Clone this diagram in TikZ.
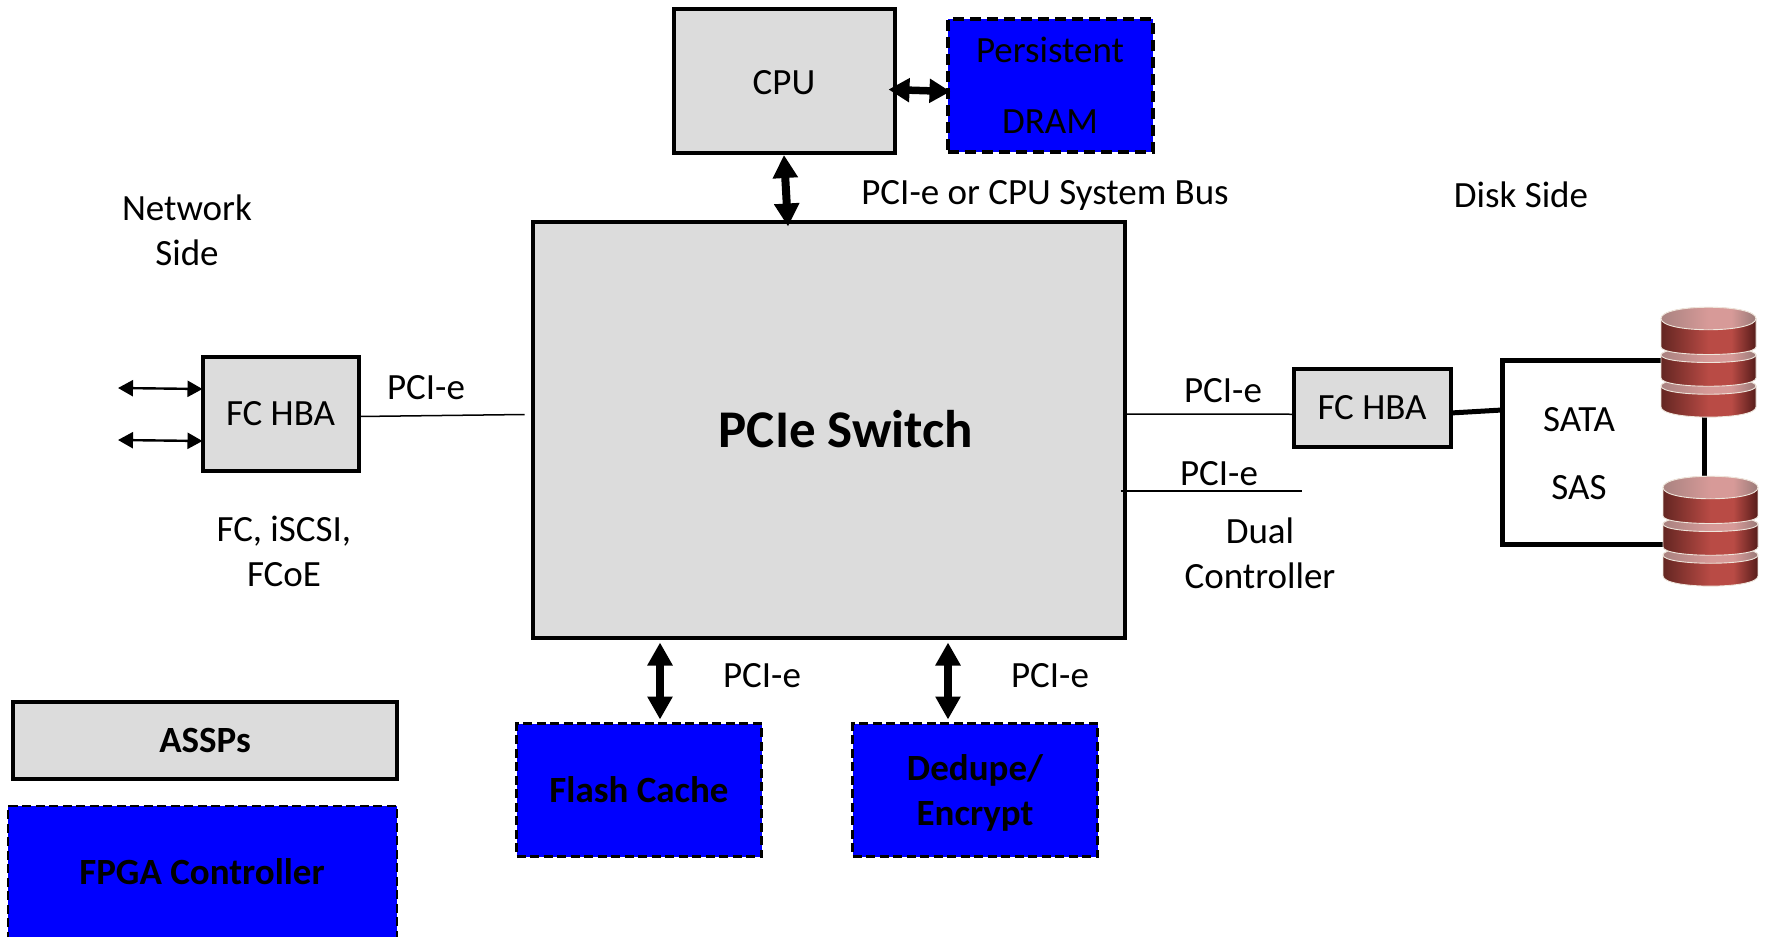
\documentclass[tikz,border=0pt]{standalone}
\usepackage{fontspec}
\setmainfont{Carlito}
\usetikzlibrary{arrows.meta}
\definecolor{boxgray}{HTML}{DCDCDC}
\definecolor{fpgablue}{HTML}{0000FF}
\definecolor{diskedge}{HTML}{EFE6DC}
\definecolor{bodyL}{HTML}{642622}
\definecolor{bodyM}{HTML}{B94B45}
\definecolor{bodyR}{HTML}{561C1A}
\definecolor{lightL}{HTML}{A98280}
\definecolor{lightM}{HTML}{D79A98}
\definecolor{lightR}{HTML}{9A7A78}
\pgfdeclarehorizontalshading{diskbody}{100bp}{color(0bp)=(bodyL); color(25bp)=(bodyL); color(50bp)=(bodyM); color(62bp)=(bodyM); color(75bp)=(bodyR); color(100bp)=(bodyR)}
\pgfdeclarehorizontalshading{disklight}{100bp}{color(0bp)=(lightL); color(25bp)=(lightL); color(50bp)=(lightM); color(62bp)=(lightM); color(75bp)=(lightR); color(100bp)=(lightR)}
\tikzset{
  txt/.style={font=\fontsize{37}{44}\selectfont, inner sep=0pt, align=center, text=black},
  boldtxt/.style={font=\fontsize{37}{45}\selectfont\bfseries, inner sep=0pt, align=center, text=black},
  asicbox/.style={draw=black, fill=boxgray, line width=4pt, outer sep=0pt, inner sep=0pt},
  fpgabox/.style={draw=black, fill=fpgablue, line width=2.8pt, dash pattern=on 9pt off 4.5pt, outer sep=0pt, inner sep=0pt},
  wirethin/.style={draw=black, line width=1.5pt},
  wirethick/.style={draw=black, line width=5pt},
  bigarrow/.style={draw=black, line width=8pt, {Triangle[width=24pt,length=23pt]}-{Triangle[width=24pt,length=23pt]}},
  midarrow/.style={draw=black, line width=7.5pt, {Triangle[width=23pt,length=21pt]}-{Triangle[width=23pt,length=21pt]}},
  smallarrow/.style={draw=black, line width=2.4pt, {Triangle[width=16pt,length=15pt]}-{Triangle[width=16pt,length=15pt]}},
  diskbodystyle/.style={shading=diskbody, draw=diskedge, line width=0.9pt},
  disklightstyle/.style={shading=disklight, draw=diskedge, line width=0.9pt}
}
% one stacked disk: #1 = left x, #2 = top y of the drawing
\newcommand{\diskstack}[2]{%
  \begin{scope}[shift={(#1,#2)}]
    % lowest section
    \path[diskbodystyle] (0,79) -- (0,100) .. controls (0,113.5) and (95,113.5) .. (95,100) -- (95,79) .. controls (95,69) and (0,69) .. (0,79) -- cycle;
    \path[disklightstyle] (0,79) .. controls (0,90) and (95,90) .. (95,79) .. controls (95,68) and (0,68) .. (0,79) -- cycle;
    % middle section
    \path[diskbodystyle] (0,48) -- (0,71) .. controls (0,82) and (95,82) .. (95,71) -- (95,48) .. controls (95,38) and (0,38) .. (0,48) -- cycle;
    \path[disklightstyle] (0,48) .. controls (0,58) and (95,58) .. (95,48) .. controls (95,38) and (0,38) .. (0,48) -- cycle;
    % top section
    \path[diskbodystyle] (0,11.5) -- (0,40) .. controls (0,50) and (95,50) .. (95,40) -- (95,11.5) .. controls (95,-3.5) and (0,-3.5) .. (0,11.5) -- cycle;
    \path[disklightstyle] (0,11.5) .. controls (0,26.5) and (95,26.5) .. (95,11.5) .. controls (95,-3.5) and (0,-3.5) .. (0,11.5) -- cycle;
  \end{scope}%
}
\begin{document}
\begin{tikzpicture}[x=1pt,y=-1pt]
\useasboundingbox (0,0) rectangle (1767,937);

% main boxes
\node[asicbox, minimum width=221pt, minimum height=144pt, txt] (cpu) at (784,81) {\rule{0pt}{27pt}CPU};
\node[fpgabox, minimum width=205pt, minimum height=133pt, line width=4pt, dash pattern=on 11pt off 6pt, font=\fontsize{37}{71}\selectfont, align=center] (dram) at (1050,85.5) {Persistent\\DRAM};
\node[asicbox, minimum width=592pt, minimum height=416pt] (sw) at (828.5,429.5) {};
\node[asicbox, minimum width=156pt, minimum height=114pt, txt] (hbal) at (280.5,414) {FC HBA};
\node[asicbox, minimum width=157pt, minimum height=78pt, txt] (hbar) at (1372,408) {FC HBA};
\node[draw=black, fill=white, line width=5pt, minimum width=202pt, minimum height=184pt, outer sep=0pt, inner sep=0pt] (sata) at (1603,452) {};
\node[asicbox, minimum width=384pt, minimum height=77pt, boldtxt] (assps) at (205,740.5) {ASSPs};
\node[fpgabox, minimum width=389pt, minimum height=136pt] (fpga) at (202.5,874) {};
\node[fpgabox, minimum width=245pt, minimum height=133pt, boldtxt] (flash) at (639,790) {Flash Cache};
\node[fpgabox, minimum width=245pt, minimum height=133pt, boldtxt] (dedupe) at (975,790) {\rule{0pt}{32pt}Dedupe/\\Encrypt};

% disks
\diskstack{1661}{307}
\diskstack{1663}{476}

% labels
\node[font=\fontsize{53}{60}\selectfont\bfseries, inner sep=0pt] (swlabel) at (846,429) {PCIe Switch};
\node[boldtxt] (fpgalabel) at (202,872) {FPGA Controller};
\node[txt, font=\fontsize{37}{45}\selectfont] (network) at (187,230) {Network\\Side};
\node[txt] (disk) at (1521,195) {Disk Side};
\node[txt] (bus) at (1045,195) {PCI-e or CPU System Bus};
\node[txt] (pcil) at (426,388) {PCI-e};
\node[txt] (pcir) at (1223,391) {PCI-e};
\node[txt] (pcid) at (1219,474) {PCI-e};
\node[txt] (pcif) at (762,676) {PCI-e};
\node[txt] (pcie) at (1050,676) {PCI-e};
\node[txt, font=\fontsize{37}{45}\selectfont] (fclabel) at (284,551) {FC, iSCSI,\\FCoE};
\node[txt, font=\fontsize{37}{45}\selectfont] (duallabel) at (1260,553.5) {Dual\\Controller};
\node[txt, font=\fontsize{37}{68}\selectfont] (satalabel) at (1579,454) {SATA\\SAS};

% free ends
\coordinate (netA) at (118,388);
\coordinate (netB) at (118,440);
\coordinate (dualend) at (1302,491);

% connectors
\draw[bigarrow] ([yshift=-2pt]cpu.south) -- ([xshift=-40.5pt,yshift=-5pt]sw.north);
\draw[midarrow] ([xshift=-6pt,yshift=-8.5pt]cpu.east) -- ([xshift=3pt,yshift=-6pt]dram.west);
\draw[smallarrow] (netA) -- ([yshift=25pt]hbal.west);
\draw[smallarrow] (netB) -- ([yshift=-27pt]hbal.west);
\draw[wirethin] ([yshift=-2.5pt]hbal.east) -- ([xshift=-8pt,yshift=15pt]sw.west);
\draw[wirethin] ([yshift=15.5pt]sw.east) -- ([yshift=-6.25pt]hbar.west);
\draw[wirethin] ([xshift=-4pt,yshift=-61.5pt]sw.east) -- (dualend);
\draw[wirethick] ([yshift=-5pt]hbar.east) -- ([yshift=42pt]sata.west);
\draw[bigarrow] ([xshift=21pt,yshift=-5pt]sw.south -| flash.north) -- ([xshift=21pt,yshift=4pt]flash.north);
\draw[bigarrow] ([xshift=-27pt,yshift=-5pt]sw.south -| dedupe.north) -- ([xshift=-27pt,yshift=4pt]dedupe.north);
\end{tikzpicture}
\end{document}
